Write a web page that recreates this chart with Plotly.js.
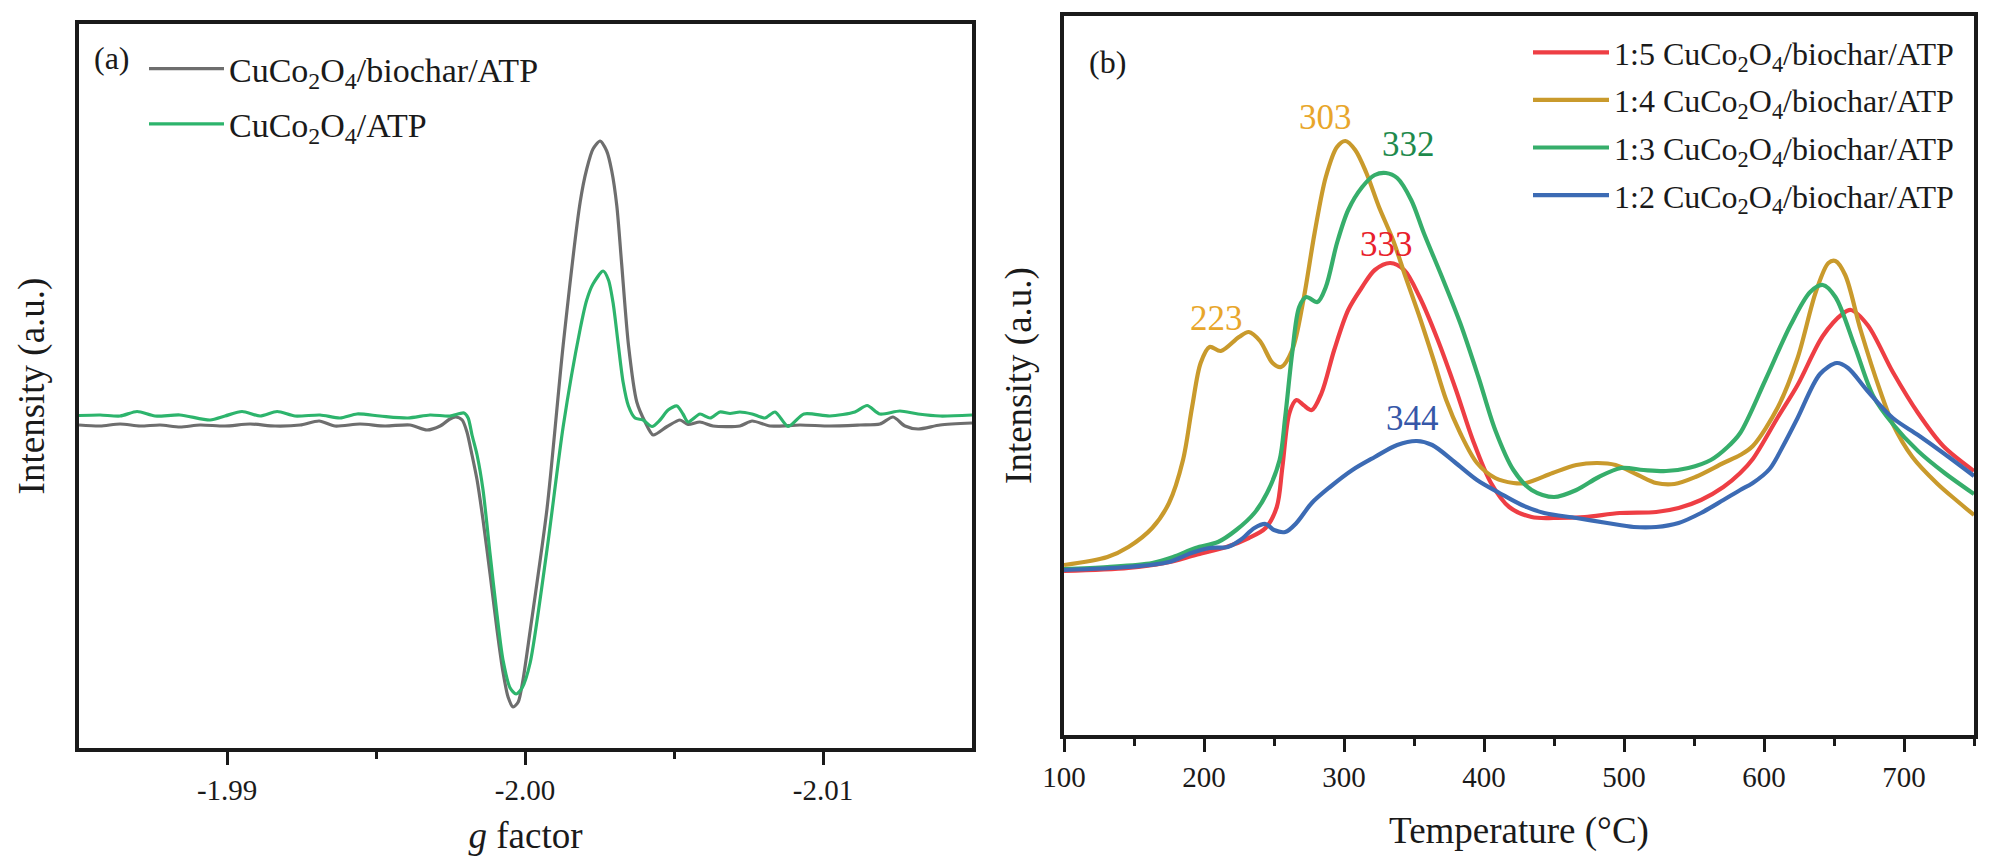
<!DOCTYPE html>
<html>
<head>
<meta charset="utf-8">
<script src="https://cdn.plot.ly/plotly-3.0.1.min.js"></script>
<style>
  html, body { margin: 0; padding: 0; background: #ffffff; }
  #chart { width: 2000px; height: 863px; }
</style>
</head>
<body>
<div id="chart"></div>
<script>
// ---------- Panel (a): EPR spectra ----------
const gBiochar = [-1.98503,-1.98574,-1.98641,-1.98708,-1.98775,-1.98842,-1.98909,-1.98993,-1.99077,-1.99161,-1.99245,-1.99309,-1.99362,-1.99446,-1.99530,-1.99614,-1.99671,-1.99715,-1.99748,-1.99768,-1.99789,-1.99805,-1.99822,-1.99839,-1.99859,-1.99883,-1.99906,-1.99926,-1.99943,-1.99960,-1.99977,-1.99993,-2.00017,-2.00074,-2.00128,-2.00185,-2.00207,-2.00228,-2.00252,-2.00274,-2.00291,-2.00308,-2.00324,-2.00347,-2.00375,-2.00403,-2.00430,-2.00477,-2.00520,-2.00547,-2.00587,-2.00631,-2.00721,-2.00762,-2.00822,-2.00923,-2.01023,-2.01124,-2.01191,-2.01235,-2.01275,-2.01319,-2.01393,-2.01500];
const intBiochar = [0,-1,1,-1,0,-2,0,-1,1,-1,0,4,-1,1,-1,0,-5,-1,6,8,5,-7,-30,-55,-95,-150,-205,-247,-272,-282,-277,-255,-206,-83,80,223,256,276,284,274,254,219,162,80,23,3,-10,-1.5,5,0.5,3,-1,-1,4,-1,0,-1,0,1,8,-1,-4,0,2];

const gAtp = [-1.98503,-1.98574,-1.98641,-1.98698,-1.98758,-1.98842,-1.98943,-1.98993,-1.99050,-1.99111,-1.99168,-1.99228,-1.99312,-1.99379,-1.99436,-1.99513,-1.99607,-1.99681,-1.99748,-1.99795,-1.99809,-1.99822,-1.99839,-1.99859,-1.99883,-1.99906,-1.99926,-1.99950,-1.99970,-1.99990,-2.00017,-2.00074,-2.00128,-2.00185,-2.00207,-2.00228,-2.00262,-2.00280,-2.00296,-2.00313,-2.00329,-2.00347,-2.00369,-2.00396,-2.00426,-2.00453,-2.00480,-2.00510,-2.00530,-2.00547,-2.00587,-2.00621,-2.00654,-2.00688,-2.00721,-2.00762,-2.00805,-2.00839,-2.00883,-2.00936,-2.01023,-2.01107,-2.01148,-2.01191,-2.01258,-2.01319,-2.01393,-2.01500];
const intAtp = [9.5,10,9,13.5,9,10,5,9,13.5,9,13.5,9,10,7,11,9,7,10,9,12,7,-10,-30,-65,-130,-190,-235,-263,-269,-263,-238,-124,-1.5,96,125,141,154,145,121,80,43,19,7,5,-1.5,5,15,19,11,3,11,7,13,11.5,13,11,7,13,-1.5,11,9,13,19.5,11,14,11,9,10];

const gTickVals = [-1.99, -2.00, -2.01];
const gTickText = ['-1.99', '-2.00', '-2.01'];
const gMinorVals = [-1.995, -2.005];

// ---------- Panel (b): H2-TPR profiles ----------
const tempR15 = [100,146,172,194,216,232,244,252,256,261,266,271,277,284,293,303,313,322,333,343,354,367,380,392,405,418,434,450,472,497,523,539,555,571,583,592,610,624,642,656,662,674,692,710,728,750];
const intR15  = [164,167,172,180,188,197,207,228,268,322,335,330,325,342,385,425,448,465,472,465,438,395,345,295,252,228,218,217,218,222,223,227,235,248,262,276,318,350,399,421,425,410,363,322,289,264];

const tempR14 = [100,131,146,163,175,185,191.5,197.6,204,212,225,232,240,249,255,263,271,279,287,295,301,308,316,325,335,344,354,364,373,383,395,408,421,430,449,466,481,494,510,523,536,551,571,583,592,610,624,637,646,651,658,669,683,692,706,724,738,750];
const intR14  = [170,178,188,207,232,275,328,372,388,384,398,403,394,372,368,385,435,502,558,588,594,585,562,528,495,458,418,375,335,302,272,257,252,252,262,270,272,270,260,252,251,258,272,280,289,328,377,443,472,474,460,405,344,311,278,251,234,220];

const tempR13 = [100,131,163,178,194,210,223,236,245,254,258,263,268,273,281,287,295,303,313,322,330,338,348,357,370,383,396,408,421,434,450,466,482,498,514,530,546,562,574,583,601,619,633,642,651,665,678,692,710,729,750];
const intR13  = [166,168,172,178,187,193,205,222,242,275,318,382,428,438,433,448,492,525,548,560,562,557,535,502,458,412,358,305,265,245,238,245,258,267,265,264,267,275,288,302,355,410,443,450,438,388,339,311,284,262,241];

const tempR12 = [100,146,175,191,204,217,226,236,244,250,258,266,277,290,306,322,338,352,363,379,395,411,427,443,466,488,507,523,539,555,571,583,592,604,614,624,640,652,660,674,692,710,729,750];
const intR12  = [165,168,173,182,187,188,195,207,211,205,203,212,232,248,265,278,290,294,290,273,255,242,230,222,217,212,208,208,212,222,235,245,252,266,290,317,361,372,367,344,317,300,281,259];

const peakLabels = ['223', '303', '332', '333', '344'];
const peakTemps  = [209, 287, 346, 330, 349];
const peakInts   = [417, 617, 590, 490, 317];
const peakColors = ['#E8A62A', '#E8A62A', '#1E8A4C', '#E8212B', '#3657A8'];

const tpNames = ['1:5 CuCo<sub>2</sub>O<sub>4</sub>/biochar/ATP', '1:4 CuCo<sub>2</sub>O<sub>4</sub>/biochar/ATP',
                 '1:3 CuCo<sub>2</sub>O<sub>4</sub>/biochar/ATP', '1:2 CuCo<sub>2</sub>O<sub>4</sub>/biochar/ATP'];
const tpColors = ['#EE3E44', '#C99A2C', '#36AE6B', '#3C6BB4'];

const FONT = 'Liberation Serif';
const INK = '#1a1a1a';

const traces = [
  {x: gBiochar, y: intBiochar, xaxis: 'x', yaxis: 'y', type: 'scatter', mode: 'lines',
   name: 'CuCo<sub>2</sub>O<sub>4</sub>/biochar/ATP', line: {color: '#6E6E6E', width: 3.2, shape: 'spline', smoothing: 0.7},
   legend: 'legend', legendgroup: 'a1'},
  {x: gAtp, y: intAtp, xaxis: 'x', yaxis: 'y', type: 'scatter', mode: 'lines',
   name: 'CuCo<sub>2</sub>O<sub>4</sub>/ATP', line: {color: '#2DB46C', width: 3.2, shape: 'spline', smoothing: 0.7},
   legend: 'legend', legendgroup: 'a2'}
];
const tx = [tempR15, tempR14, tempR13, tempR12];
const ty = [intR15, intR14, intR13, intR12];
for (let i = 0; i < 4; i++) {
  traces.push({x: tx[i], y: ty[i], xaxis: 'x2', yaxis: 'y2', type: 'scatter', mode: 'lines',
    name: tpNames[i], line: {color: tpColors[i], width: 4.2, shape: 'spline', smoothing: 0.9},
    legend: 'legend2', legendgroup: 'b' + i});
}

const annotations = [
  {xref: 'paper', yref: 'paper', x: 112/2000, y: 1 - 58/863, xanchor: 'center', yanchor: 'middle',
   text: '(a)', showarrow: false, font: {family: FONT, size: 32, color: INK}},
  {xref: 'paper', yref: 'paper', x: 1107/2000, y: 1 - 62/863, xanchor: 'center', yanchor: 'middle',
   text: '(b)', showarrow: false, font: {family: FONT, size: 32, color: INK}}
];
for (let i = 0; i < peakLabels.length; i++) {
  annotations.push({xref: 'x2', yref: 'y2', x: peakTemps[i], y: peakInts[i], text: peakLabels[i],
    xanchor: 'center', yanchor: 'middle',
    showarrow: false, font: {family: FONT, size: 35, color: peakColors[i]}});
}

const axisLine = {showline: true, linecolor: INK, linewidth: 4, mirror: true, showgrid: false, zeroline: false};

const layout = {
  width: 2000, height: 863,
  margin: {l: 0, r: 0, t: 0, b: 0},
  paper_bgcolor: '#ffffff', plot_bgcolor: '#ffffff',
  font: {family: FONT, color: INK},
  showlegend: true,
  xaxis: Object.assign({}, axisLine, {
    domain: [79/2000, 972/2000], range: [-1.98503, -2.015], anchor: 'y',
    tickmode: 'array', tickvals: gTickVals, ticktext: gTickText,
    ticks: 'outside', ticklen: 13, tickwidth: 3, tickcolor: INK,
    tickfont: {family: FONT, size: 29, color: INK},
    minor: {tickmode: 'array', tickvals: gMinorVals, ticks: 'outside', ticklen: 7, tickwidth: 3, tickcolor: INK},
    title: {text: '<i>g</i> factor', font: {family: FONT, size: 37, color: INK}, standoff: 18}
  }),
  yaxis: Object.assign({}, axisLine, {
    domain: [1 - 748/863, 1 - 24/863], range: [-323, 401], anchor: 'x',
    showticklabels: false, ticks: '',
    title: {text: 'Intensity (a.u.)', font: {family: FONT, size: 37, color: INK}, standoff: 20}
  }),
  xaxis2: Object.assign({}, axisLine, {
    domain: [1064/2000, 1974/2000], range: [100, 750], anchor: 'y2',
    tickmode: 'linear', tick0: 100, dtick: 100,
    ticks: 'outside', ticklen: 13, tickwidth: 3, tickcolor: INK,
    tickfont: {family: FONT, size: 29, color: INK},
    minor: {dtick: 50, ticks: 'outside', ticklen: 7, tickwidth: 3, tickcolor: INK},
    title: {text: 'Temperature (°C)', font: {family: FONT, size: 37, color: INK}, standoff: 26}
  }),
  yaxis2: Object.assign({}, axisLine, {
    domain: [1 - 735/863, 1 - 16/863], range: [0, 719], anchor: 'x2',
    showticklabels: false, ticks: '',
    title: {text: 'Intensity (a.u.)', font: {family: FONT, size: 37, color: INK}, standoff: 18}
  }),
  legend: {x: 144/2000, y: 1 - 40/863, xanchor: 'left', yanchor: 'top', bgcolor: 'rgba(0,0,0,0)',
           font: {family: FONT, size: 34, color: INK}, itemwidth: 75, tracegroupgap: 8},
  legend2: {x: 1528/2000, y: 1 - 25/863, xanchor: 'left', yanchor: 'top', bgcolor: 'rgba(0,0,0,0)',
           font: {family: FONT, size: 32, color: INK}, itemwidth: 76, tracegroupgap: 3},
  annotations: annotations
};

Plotly.newPlot('chart', traces, layout, {staticPlot: true, displayModeBar: false});
</script>
</body>
</html>
